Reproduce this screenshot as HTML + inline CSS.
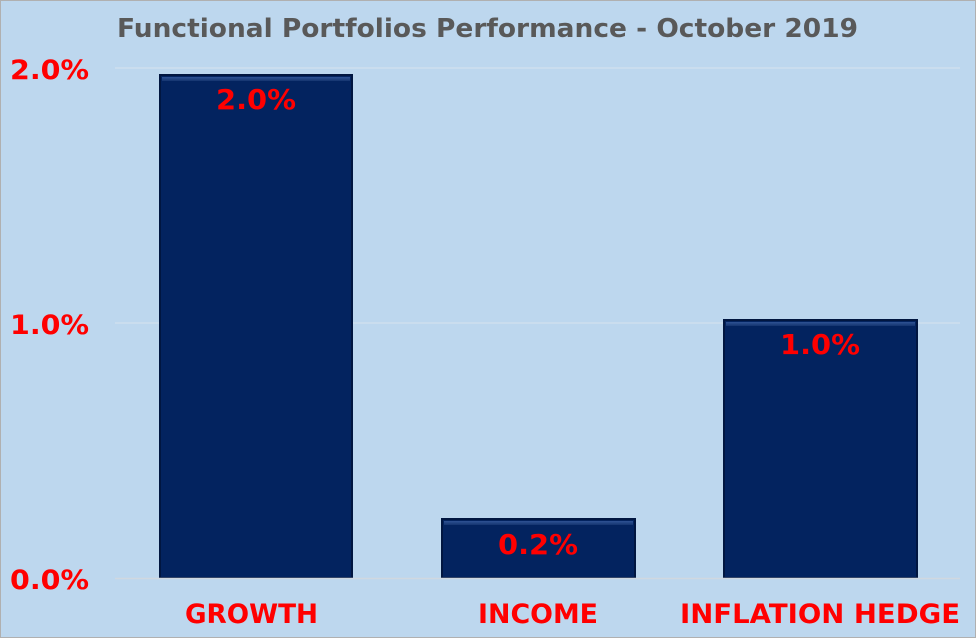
<!DOCTYPE html>
<html><head><meta charset="utf-8"><style>
html,body{margin:0;padding:0;background:#BDD7EE;}
svg{display:block;font-family:"DejaVu Sans","Liberation Sans",sans-serif;font-weight:bold;}
</style></head><body>
<svg width="976" height="638" viewBox="0 0 976 638" xmlns="http://www.w3.org/2000/svg">
<defs>
<linearGradient id="tb" x1="0" y1="0" x2="0" y2="1"><stop offset="0" stop-color="#2e5294"/><stop offset="1" stop-color="#143470"/></linearGradient>
</defs>
<rect x="0.5" y="0.5" width="975" height="637" fill="#BDD7EE" stroke="#b0b0b0"/>
<text x="117" y="37" font-size="26" fill="#595959" textLength="741" lengthAdjust="spacingAndGlyphs">Functional Portfolios Performance - October 2019</text>
<line x1="115" y1="68" x2="960" y2="68" stroke="#d6e3ef" stroke-width="1"/>
<line x1="115" y1="323" x2="960" y2="323" stroke="#d6e3ef" stroke-width="1"/>
<g fill="#FF0000" font-size="27">
<text x="10" y="79" textLength="79" lengthAdjust="spacingAndGlyphs">2.0%</text>
<text x="10" y="334" textLength="79" lengthAdjust="spacingAndGlyphs">1.0%</text>
<text x="10" y="589" textLength="79" lengthAdjust="spacingAndGlyphs">0.0%</text>
</g>
<g>
<rect x="160" y="75" width="192" height="503" fill="#03235f" stroke="#011640" stroke-width="2"/>
<rect x="162" y="77" width="188" height="4" fill="url(#tb)"/>
<rect x="442" y="519" width="193" height="59" fill="#03235f" stroke="#011640" stroke-width="2"/>
<rect x="444" y="521" width="189" height="4" fill="url(#tb)"/>
<rect x="724" y="320" width="193" height="258" fill="#03235f" stroke="#011640" stroke-width="2"/>
<rect x="726" y="322" width="189" height="4" fill="url(#tb)"/>
</g>
<line x1="115" y1="578.5" x2="960" y2="578.5" stroke="#d0d8e0" stroke-width="1.5"/>
<g fill="#FF0000" font-size="28">
<text x="216" y="109" textLength="80" lengthAdjust="spacingAndGlyphs">2.0%</text>
<text x="498" y="554" textLength="80" lengthAdjust="spacingAndGlyphs">0.2%</text>
<text x="780" y="354" textLength="80" lengthAdjust="spacingAndGlyphs">1.0%</text>
</g>
<g fill="#FF0000" font-size="27">
<text x="185" y="623" textLength="133" lengthAdjust="spacingAndGlyphs">GROWTH</text>
<text x="478" y="623" textLength="120" lengthAdjust="spacingAndGlyphs">INCOME</text>
<text x="680" y="623" textLength="280" lengthAdjust="spacingAndGlyphs">INFLATION HEDGE</text>
</g>
</svg>
</body></html>
